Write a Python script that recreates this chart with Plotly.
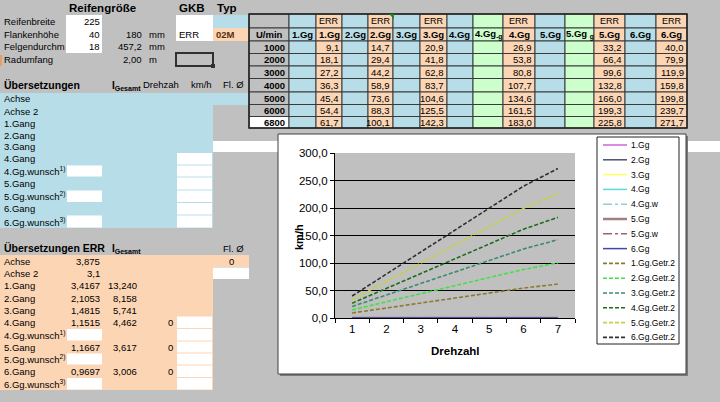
import plotly.graph_objects as go

# ---------------- data ----------------
rpm = [1000, 2000, 3000, 4000, 5000, 6000, 6800]
drehzahl = ["1", "2", "3", "4", "5", "6", "7"]

err_1gg = [9.1, 18.1, 27.2, 36.3, 45.4, 54.4, 61.7]
err_2gg = [14.7, 29.4, 44.2, 58.9, 73.6, 88.3, 100.1]
err_3gg = [20.9, 41.8, 62.8, 83.7, 104.6, 125.5, 142.3]
err_4gg = [26.9, 53.8, 80.8, 107.7, 134.6, 161.5, 183.0]
err_5gg = [33.2, 66.4, 99.6, 132.8, 166.0, 199.3, 225.8]
err_6gg = [40.0, 79.9, 119.9, 159.8, 199.8, 239.7, 271.7]

# empty spreadsheet columns (plotted as 0 by the spreadsheet)
gg1 = [0, 0, 0, 0, 0, 0, 0]
gg2 = [0, 0, 0, 0, 0, 0, 0]
gg3 = [0, 0, 0, 0, 0, 0, 0]
gg4 = [0, 0, 0, 0, 0, 0, 0]
gg4w = [0, 0, 0, 0, 0, 0, 0]
gg5 = [0, 0, 0, 0, 0, 0, 0]
gg5w = [0, 0, 0, 0, 0, 0, 0]
gg6 = [0, 0, 0, 0, 0, 0, 0]

table_top = ["", "", "ERR", "", "ERR", "", "ERR", "", "", "ERR", "", "", "ERR", "", "ERR"]
table_headers = ["U/min", "1.Gg", "1.Gg", "2.Gg", "2.Gg", "3.Gg", "3.Gg", "4.Gg",
                 "4.Gg<sub>-g</sub>", "4.Gg", "5.Gg", "5.Gg <sub>g</sub>", "5.Gg", "6.Gg", "6.Gg"]
col_kind = ["grey", "blue", "orange", "blue", "orange", "blue", "orange", "blue",
            "green", "orange", "blue", "green", "orange", "blue", "orange"]
err_columns = {2: err_1gg, 4: err_2gg, 6: err_3gg, 9: err_4gg, 12: err_5gg, 14: err_6gg}

tire_labels = ["Reifenbreite", "Flankenhöhe", "Felgendurchm", "Radumfang"]
tire_inputs = [225, 40, 18, None]
tire_derived = [None, "180", "457,2", "2,00"]
tire_units = [None, "mm", "mm", "m"]

gear_labels = ["Achse", "Achse 2", "1.Gang", "2.Gang", "3.Gang", "4.Gang",
               "4.Gg.wunsch<sup>1)</sup>", "5.Gang", "5.Gg.wunsch<sup>2)</sup>",
               "6.Gang", "6.Gg.wunsch<sup>3)</sup>"]
ratio_erl = [3.875, 3.1, 3.4167, 2.1053, 1.4815, 1.1515, None, 1.1667, None, 0.9697, None]
igesamt_erl = [None, None, 13.240, 8.158, 5.741, 4.462, None, 3.617, None, 3.006, None]
drehzahl_erl = [None, None, None, None, None, 0, None, 0, None, 0, None]

std_series = [("1.Gg", gg1, "#CC66DD", 1.5, "solid"),
              ("2.Gg", gg2, "#50506A", 1.5, "solid"),
              ("3.Gg", gg3, "#FFFF66", 1.5, "solid"),
              ("4.Gg", gg4, "#55DDDD", 1.5, "solid"),
              ("4.Gg.w", gg4w, "#99CCCC", 1.5, "dashdot"),
              ("5.Gg", gg5, "#A08080", 2.5, "solid"),
              ("5.Gg.w", gg5w, "#996677", 1.5, "dashdot"),
              ("6.Gg", gg6, "#4444AA", 1.5, "solid")]
err_series = [("1.Gg.Getr.2", err_1gg, "#8C7A2E", 1.6, "4px,2px"),
              ("2.Gg.Getr.2", err_2gg, "#44E044", 1.6, "4px,2px"),
              ("3.Gg.Getr.2", err_3gg, "#3A8C6E", 1.6, "4px,2px"),
              ("4.Gg.Getr.2", err_4gg, "#1E6B1E", 1.6, "4px,2px"),
              ("5.Gg.Getr.2", err_5gg, "#C8D040", 1.6, "4px,2px"),
              ("6.Gg.Getr.2", err_6gg, "#303030", 1.6, "4px,2px")]

# ---------------- helpers ----------------
W, H = 720, 402
GREY = "#C0C0C0"
BLUE = "#B7DEE8"
ORANGE = "#FCD5B4"
GREEN = "#CCFFCC"
FONT = "Arial, Liberation Sans, sans-serif"
shapes, annos = [], []


def px(x):
    return x / W


def py(y):
    return 1 - y / H


def rect(x0, y0, x1, y1, fill, line=None, lw=1):
    shapes.append(dict(type="rect", xref="paper", yref="paper", layer="below",
                       x0=px(x0), x1=px(x1), y0=py(y1), y1=py(y0), fillcolor=fill,
                       line=dict(color=line if line else fill, width=lw if line else 0)))


def txt(x, y, s, size=9.5, bold=False, anchor="left", color="black"):
    annos.append(dict(xref="paper", yref="paper", x=px(x), y=py(y), showarrow=False,
                      text=f"<b>{s}</b>" if bold else s, xanchor=anchor, yanchor="middle",
                      borderpad=0, font=dict(family=FONT, size=size, color=color)))


def de(v, d):
    return f"{v:.{d}f}".replace(".", ",")


# ---------------- spreadsheet: top left ----------------
txt(68, 8, "Reifengröße", 11.5, True)
txt(178, 8, "GKB", 11.5, True)
txt(216, 8, "Typ", 11.5, True)
rect(66, 15, 102, 53, "white")
rect(176, 15, 213, 28, "white")
rect(213, 15, 250, 28, BLUE)
rect(176, 28, 213, 41, "white")
rect(213, 28, 250, 41, ORANGE)
rect(176, 53, 213, 66, GREY, "#303030", 2)
rect(211, 64, 215, 68, "#303030")
rect(0, 55, 2, 66, "#E8A060")
txt(178, 34.5, "ERR")
txt(215, 34.5, "02M", 9.5, True, color="#5A3010")
tire_y = [22, 34.5, 47, 60]
for i, lab in enumerate(tire_labels):
    txt(3, tire_y[i], lab)
    if tire_inputs[i] is not None:
        txt(101, tire_y[i], str(tire_inputs[i]), anchor="right")
    if tire_derived[i] is not None:
        txt(143, tire_y[i], tire_derived[i], anchor="right")
        txt(148, tire_y[i], tire_units[i])

# ---------------- Übersetzungen (blue) ----------------
txt(3, 85, "Übersetzungen", 10.5, True)
txt(111, 86, "I<sub>Gesamt</sub>", 10, True)
txt(142, 85, "Drehzah")
txt(190, 85, "km/h")
txt(222, 85, "Fl. Ø")
blue_rows = [93, 105, 117, 129.5, 141, 152.5, 165, 177, 190, 202.5, 215, 228]
rect(0, 93, 249, 105, BLUE)
rect(0, 105, 213, 228, BLUE)
rect(213, 141, 720, 152, "white")
for i in range(5, 11):
    rect(177, blue_rows[i] + 0.5, 212, blue_rows[i + 1] - 0.5, "white")
for i in (6, 8, 10):
    rect(67, blue_rows[i] + 0.5, 102, blue_rows[i + 1] - 0.5, "white")
for i, lab in enumerate(gear_labels):
    txt(3, (blue_rows[i] + blue_rows[i + 1]) / 2, lab)

# ---------------- Übersetzungen ERR (orange) ----------------
txt(3, 248, "Übersetzungen ERR", 10.5, True)
txt(111, 249, "I<sub>Gesamt</sub>", 10, True)
txt(222, 248, "Fl. Ø")
org_rows = [255, 267, 279.5, 292, 304, 316, 328.5, 341, 353, 365, 377.5, 390]
rect(0, 255, 249, 267, ORANGE)
rect(0, 267, 213, 390, ORANGE)
rect(213, 267.5, 249, 279, "white")
for i in range(5, 11):
    rect(177, org_rows[i] + 0.5, 212, org_rows[i + 1] - 0.5, "white")
for i in (6, 8, 10):
    rect(67, org_rows[i] + 0.5, 102, org_rows[i + 1] - 0.5, "white")
for i, lab in enumerate(gear_labels):
    yc = (org_rows[i] + org_rows[i + 1]) / 2
    txt(3, yc, lab)
    if ratio_erl[i] is not None:
        txt(101, yc, str(ratio_erl[i]).replace(".", ","), anchor="right")
    if igesamt_erl[i] is not None:
        txt(138, yc, de(igesamt_erl[i], 3), anchor="right")
    if drehzahl_erl[i] is not None:
        txt(174, yc, str(drehzahl_erl[i]), anchor="right")
txt(231, 261, "0", anchor="center")

# ---------------- speed table ----------------
cols = [249, 289, 316, 342, 368, 393, 420, 447, 473, 503, 535, 565, 594, 625, 656, 687]
rows = [14, 28, 41, 53.5, 66, 78.5, 92, 104.5, 116.5, 128]
fills = {"grey": GREY, "blue": BLUE, "orange": ORANGE, "green": GREEN}
for c, kind in enumerate(col_kind):
    x0, x1 = cols[c], cols[c + 1]
    for r in range(len(rows) - 1):
        y0, y1 = rows[r], rows[r + 1]
        f = fills[kind]
        if kind == "grey" and r == len(rows) - 2:
            f = "white"
        rect(x0, y0, x1, y1, f, "#3A3A3A", 1)
    if table_top[c]:
        txt((x0 + x1) / 2, 21, table_top[c], 9, anchor="center")
    txt((x0 + x1) / 2, 34.5, table_headers[c], 9.5, True, anchor="center")
    for r, v in enumerate(rpm):
        yc = (rows[r + 2] + rows[r + 3]) / 2
        if c == 0:
            txt(x1 - 3, yc, str(v), 9.5, True, anchor="right")
        elif c in err_columns:
            txt(x1 - 2, yc, de(err_columns[c][r], 1), 9.5, anchor="right")
shapes.append(dict(type="rect", xref="paper", yref="paper", layer="below",
                   x0=px(249), x1=px(687), y0=py(128), y1=py(14),
                   line=dict(color="#202020", width=1.5)))
shapes.append(dict(type="path", xref="paper", yref="paper", layer="below",
                   path=f"M {px(389)},{py(14)} L {px(394)},{py(14)} L {px(394)},{py(19)} Z",
                   fillcolor="#1A8A1A", line=dict(width=0)))

# ---------------- chart frame ----------------
rect(280, 136, 688, 376, "#7A7A7A")
rect(278, 134, 686, 374, "white", "#404040", 1)
rect(335, 153, 575, 318, GREY)
txt(455, 351, "Drehzahl", 11.5, True, anchor="center")
annos.append(dict(xref="paper", yref="paper", x=px(299), y=py(237), showarrow=False,
                  text="<b>km/h</b>", textangle=-90, xanchor="center", yanchor="middle",
                  font=dict(family=FONT, size=11, color="black")))

# ---------------- legend (drawn like the spreadsheet legend) ----------------
rect(597, 137, 679, 344, "white", "#222222", 1)
for i, (name, _vals, color, w, dash) in enumerate(std_series + err_series):
    ly = 145 + i * 14.8
    shapes.append(dict(type="line", xref="paper", yref="paper", layer="above",
                       x0=px(603), x1=px(627), y0=py(ly), y1=py(ly),
                       line=dict(color=color, width=w, dash=dash)))
    txt(630, ly, name, 8.5)

# ---------------- traces ----------------
fig = go.Figure()
for name, vals, color, w, dash in std_series + err_series:
    fig.add_trace(go.Scatter(x=drehzahl, y=vals, name=name, mode="lines",
                             line=dict(color=color, width=w, dash=dash)))

fig.update_layout(
    width=W, height=H, margin=dict(l=0, r=0, t=0, b=0),
    paper_bgcolor=GREY, plot_bgcolor="rgba(0,0,0,0)",
    separators=",.", font=dict(family=FONT, color="black"),
    shapes=shapes, annotations=annos, showlegend=False,
    xaxis=dict(domain=[px(335), px(575)], type="category", range=[-0.5, 6.5],
               showline=True, linecolor="black", linewidth=1, ticks="outside",
               tickson="boundaries", ticklen=4, tickcolor="black", showgrid=False,
               tickfont=dict(size=11.5), layer="below traces", automargin=False,
               fixedrange=True),
    yaxis=dict(domain=[py(318), py(153)], range=[0, 300], dtick=50, tick0=0,
               tickformat=".1f", showgrid=True, gridcolor="black", gridwidth=1,
               showline=True, linecolor="black", ticks="outside", ticklen=4,
               tickcolor="black", zeroline=False, tickfont=dict(size=11.5),
               automargin=False, fixedrange=True),
)
fig.write_html("out.html", config={"displayModeBar": False},
               post_script="document.body.style.margin='0';"
                           "document.body.style.overflow='hidden';")
